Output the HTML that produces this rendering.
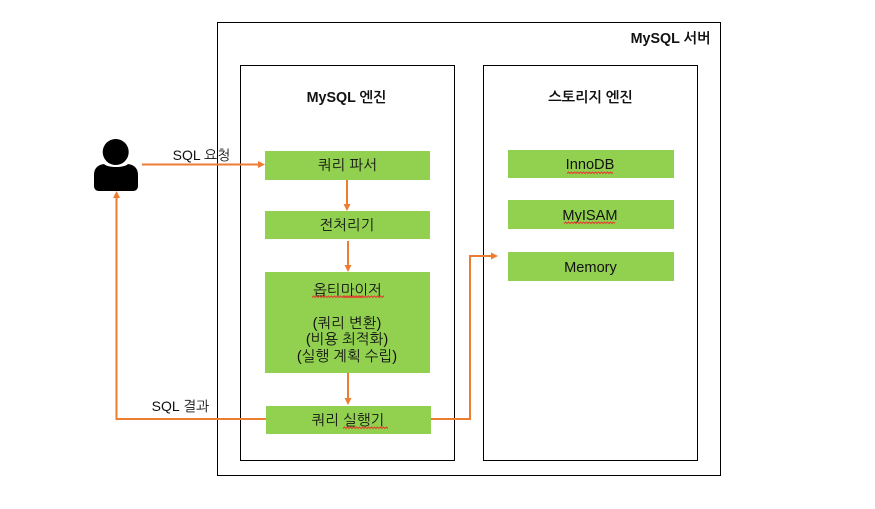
<!DOCTYPE html>
<html lang="ko"><head><meta charset="utf-8"><title>MySQL 서버</title>
<style>html,body{margin:0;padding:0;background:#fff;width:875px;height:509px;overflow:hidden}svg{display:block}
text{font-family:"Liberation Sans","NanumGothic","Noto Sans CJK KR",sans-serif;font-size:14.6px;fill:#111;text-anchor:middle}
.b{font-weight:bold;font-size:14.3px}.l{font-size:14px}</style></head><body>
<svg width="875" height="509" viewBox="0 0 875 509" xmlns="http://www.w3.org/2000/svg">
<defs><path id="sq" d="M0 1.5l1.5-1.500 1.500 1.500 1.500-1.500 1.500 1.500 1.500-1.500 1.500 1.500 1.500-1.500 1.500 1.500 1.500-1.500 1.500 1.500 1.500-1.500 1.500 1.500 1.500-1.500 1.500 1.500 1.500-1.500 1.500 1.500 1.500-1.500 1.500 1.500 1.500-1.500 1.500 1.500 1.500-1.500 1.500 1.500 1.500-1.500 1.500 1.500 1.500-1.500 1.500 1.500 1.500-1.500 1.500 1.500 1.500-1.500 1.500 1.500 1.500-1.500 1.500 1.500 1.500-1.500 1.500 1.500" fill="none" stroke="#e04030" stroke-width="1"/></defs>
<g fill="none" stroke="#000" stroke-width="1"><rect x="217.500" y="22.500" width="503" height="453"/><rect x="240.500" y="65.500" width="214" height="395"/><rect x="483.500" y="65.500" width="214" height="395"/></g>
<g fill="#92d050"><rect x="265" y="151" width="165" height="29"/><rect x="265" y="211" width="165" height="28"/><rect x="265" y="272" width="165" height="101"/><rect x="266" y="406" width="165" height="28"/><rect x="508" y="150" width="166" height="28"/><rect x="508" y="200" width="166" height="29"/><rect x="508" y="252" width="166" height="29"/></g>
<g fill="#000"><circle cx="115.700" cy="152" r="13"/><path d="M104 164c4 4 20 4 24 0 7 1 10 5 10 11v11c0 3-2 5-5 5H99c-3 0-5-2-5-5v-11c0-6 3-10 10-11z"/></g>
<g fill="none" stroke="#ed7d31" stroke-width="2"><path d="M142 164.500H258"/><path d="M347 180V205"/><path d="M348 241V266"/><path d="M348 373V399"/><path d="M266 419H116.500V197"/><path d="M431 419H470V256H491"/></g>
<g fill="#ed7d31"><path d="M265 164.500l-7-3.500v7z"/><path d="M347 211l-3.500-7h7z"/><path d="M348 272l-3.500-7h7z"/><path d="M348 405l-3.500-7h7z"/><path d="M116.500 191l-3.500 7h7z"/><path d="M498 256l-7-3.500v7z"/></g>
<text class="b" x="670.500" y="43">MySQL 서버</text><text class="b" x="346.500" y="102">MySQL 엔진</text><text class="b" x="590.500" y="102">스토리지 엔진</text>
<text class="l" x="201.500" y="160">SQL 요청</text><text class="l" x="180.500" y="411">SQL 결과</text>
<text x="347.500" y="170">쿼리 파서</text><text x="347" y="230">전처리기</text><text x="347.500" y="295">옵티마이저</text><text x="347" y="328">(쿼리 변환)</text><text x="347" y="344">(비용 최적화)</text><text x="347" y="361">(실행 계획 수립)</text><text x="348" y="425">쿼리 실행기</text>
<text x="590" y="169">InnoDB</text><text x="590" y="220">MyISAM</text><text x="590.500" y="272">Memory</text>
<use href="#sq" x="312" y="296"/><use href="#sq" x="343" y="296"/><use href="#sq" x="343" y="427"/><use href="#sq" x="567" y="172"/><use href="#sq" x="564" y="222"/>
<rect x="613" y="170" width="30" height="5" fill="#92d050"/><rect x="616" y="220" width="30" height="5" fill="#92d050"/><rect x="384" y="295" width="34" height="5" fill="#92d050"/><rect x="388" y="426" width="30" height="5" fill="#92d050"/>
</svg></body></html>
